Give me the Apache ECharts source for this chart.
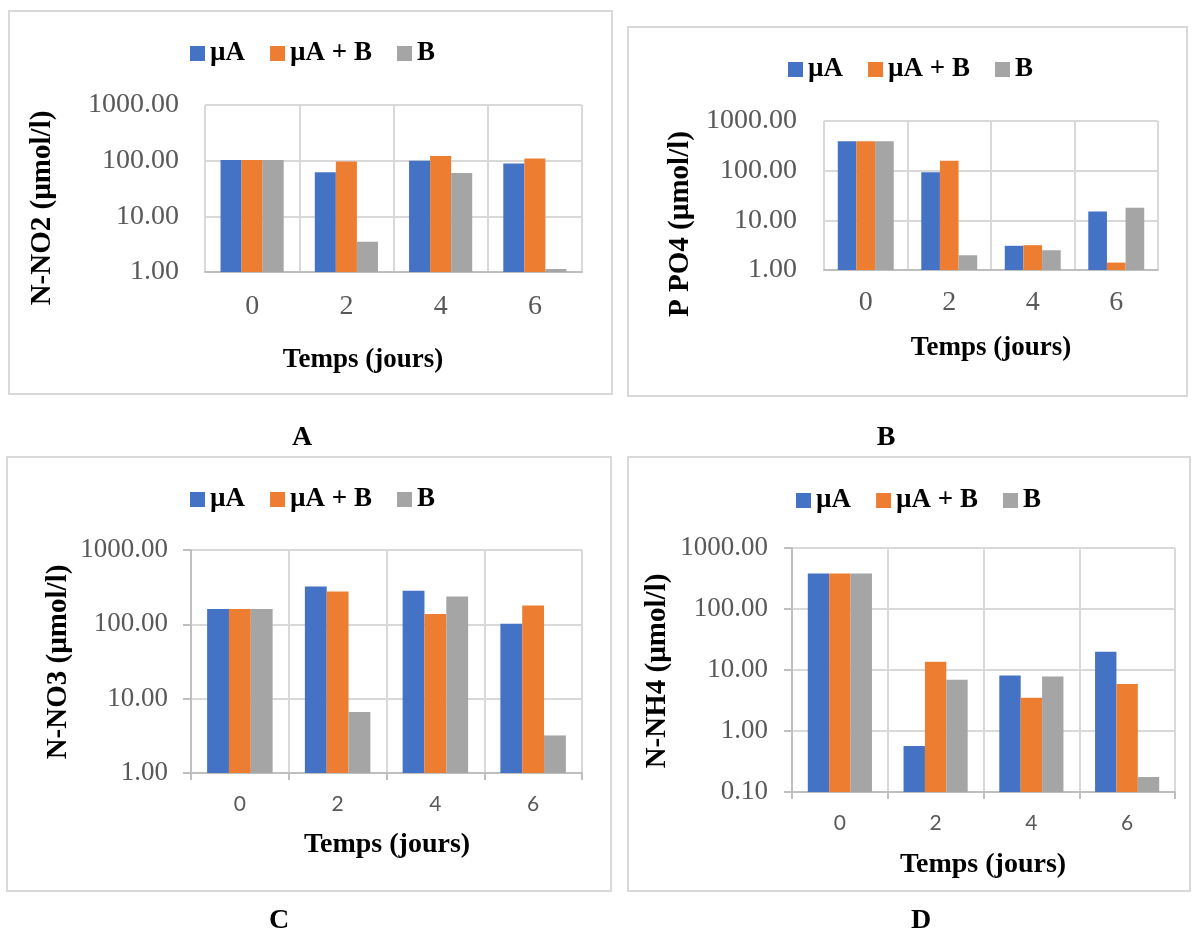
<!DOCTYPE html>
<html>
<head>
<meta charset="utf-8">
<script src="https://cdn.jsdelivr.net/npm/echarts@6/dist/echarts.min.js"></script>
<style>
html,body{margin:0;padding:0;background:#fff;}
#c{width:1192px;height:933px;}
</style>
</head>
<body>
<div id="c"></div>
<script>
// ---- data ----
var categories = ['0', '2', '4', '6'];
var seriesNames = ['µA', 'µA + B', 'B'];
var colors = ['#4472C4', '#ED7D31', '#A5A5A5'];

var no2_uA  = [103, 62, 100, 89];
var no2_uAB = [103, 97, 121, 109];
var no2_B   = [103, 3.5, 60, 1.13];

var po4_uA  = [390, 93, 3.07, 15];
var po4_uAB = [390, 159, 3.16, 1.41];
var po4_B   = [390, 1.98, 2.5, 18];

var no3_uA  = [161, 323, 282, 102];
var no3_uAB = [161, 277, 138, 179];
var no3_B   = [161, 6.6, 237, 3.2];

var nh4_uA  = [382, 0.57, 8.1, 20];
var nh4_uAB = [382, 13.7, 3.5, 5.9];
var nh4_B   = [382, 6.9, 7.8, 0.176];

var yTitles = ['N-NO2 (µmol/l)', 'P PO4 (µmol/l)', 'N-NO3 (µmol/l)', 'N-NH4 (µmol/l)'];
var xTitle = 'Temps (jours)';
var panelLetters = ['A', 'B', 'C', 'D'];
var yMins = [1, 1, 1, 0.1];
var yMax = 1000;

// ---- layout ----
var SERIF = '"Liberation Serif", "Times New Roman", serif';
var SANS = 'Lato, "Open Sans", sans-serif';
var panels = [
  {data:[no2_uA, no2_uAB, no2_B], box:[9,11,603,383], grid:{left:205, top:105, width:377, height:167},
   legend:{left:190, top:40}, yt:[43,208], xt:[363,360], letter:[302,438], ylabMargin:26, xlabMargin:21,
   xFont:SERIF, xSize:28, ySize:28, yTicks:false, titleSize:27},
  {data:[po4_uA, po4_uAB, po4_B], box:[628,27,559,369], grid:{left:824, top:121, width:334, height:149},
   legend:{left:788, top:56}, yt:[681,224], xt:[991,348], letter:[886,438], ylabMargin:27, xlabMargin:19,
   xFont:SERIF, xSize:28, ySize:28, yTicks:false, titleSize:27},
  {data:[no3_uA, no3_uAB, no3_B], box:[7,457,604,434], grid:{left:191, top:550, width:391, height:223},
   legend:{left:190, top:486}, yt:[59,662], xt:[387,845], letter:[279,921], ylabMargin:23, xlabMargin:21,
   xFont:SANS, xSize:21, ySize:27, yTicks:true, titleSize:28},
  {data:[nh4_uA, nh4_uAB, nh4_B], box:[628,457,562,434], grid:{left:792, top:548, width:383, height:244},
   legend:{left:796, top:487}, yt:[658,671], xt:[983,865], letter:[921,921], ylabMargin:24, xlabMargin:21,
   xFont:SANS, xSize:21, ySize:27, yTicks:true, titleSize:28}
];

var option = {
  animation: false,
  backgroundColor: '#ffffff',
  grid: [], xAxis: [], yAxis: [], series: [], legend: [], graphic: []
};

panels.forEach(function (p, i) {
  option.graphic.push({
    type: 'rect', silent: true, z: -10,
    shape: {x: p.box[0], y: p.box[1], width: p.box[2], height: p.box[3]},
    style: {fill: '#ffffff', stroke: '#D9D9D9', lineWidth: 2}
  });
  option.graphic.push({
    type: 'text', silent: true,
    x: p.yt[0], y: p.yt[1], rotation: Math.PI / 2,
    style: {text: yTitles[i], font: 'bold 29px ' + SERIF, fill: '#000',
            textAlign: 'center', textVerticalAlign: 'middle'}
  });
  option.graphic.push({
    type: 'text', silent: true,
    x: p.xt[0], y: p.xt[1],
    style: {text: xTitle, font: 'bold ' + p.titleSize + 'px ' + SERIF, fill: '#000',
            textAlign: 'center', textVerticalAlign: 'middle'}
  });
  option.graphic.push({
    type: 'text', silent: true,
    x: p.letter[0], y: p.letter[1],
    style: {text: panelLetters[i], font: 'bold 28px ' + SERIF, fill: '#000',
            textAlign: 'center', textVerticalAlign: 'middle'}
  });

  option.grid.push({left: p.grid.left, top: p.grid.top, width: p.grid.width, height: p.grid.height, containLabel: false});
  option.xAxis.push({
    type: 'category', gridIndex: i, data: categories,
    boundaryGap: true,
    axisLine: {show: true, lineStyle: {color: '#BFBFBF', width: 2}},
    axisTick: {show: p.yTicks, length: 7, lineStyle: {color: '#BFBFBF', width: 2}},
    axisLabel: {color: '#595959', fontFamily: p.xFont, fontSize: p.xSize, margin: p.xlabMargin},
    splitLine: {show: true, lineStyle: {color: '#D9D9D9', width: 2}}
  });
  option.yAxis.push({
    type: 'log', logBase: 10, gridIndex: i, min: yMins[i], max: yMax, startValue: yMins[i],
    axisLine: {show: p.yTicks, lineStyle: {color: '#BFBFBF', width: 2}},
    axisTick: {show: p.yTicks, length: 8, lineStyle: {color: '#BFBFBF', width: 2}},
    axisLabel: {color: '#595959', fontFamily: SERIF, fontSize: p.ySize, margin: p.ylabMargin,
                formatter: function (v) { return Number(v).toFixed(2); }},
    splitLine: {show: true, lineStyle: {color: '#D9D9D9', width: 2}},
    minorTick: {show: false}, minorSplitLine: {show: false}
  });
  option.legend.push({
    left: p.legend.left, top: p.legend.top, padding: 0,
    data: seriesNames, itemWidth: 15, itemHeight: 15, itemGap: 25, icon: 'rect',
    textStyle: {fontFamily: SERIF, fontWeight: 'bold', fontSize: 27, color: '#000'}
  });
  p.data.forEach(function (vals, k) {
    option.series.push({
      type: 'bar', name: seriesNames[k], xAxisIndex: i, yAxisIndex: i,
      data: vals, barGap: '0%', barCategoryGap: '33%',
      itemStyle: {color: colors[k]}
    });
  });
});

var chart = echarts.init(document.getElementById('c'), null, {renderer: 'canvas'});
chart.setOption(option);
</script>
</body>
</html>
